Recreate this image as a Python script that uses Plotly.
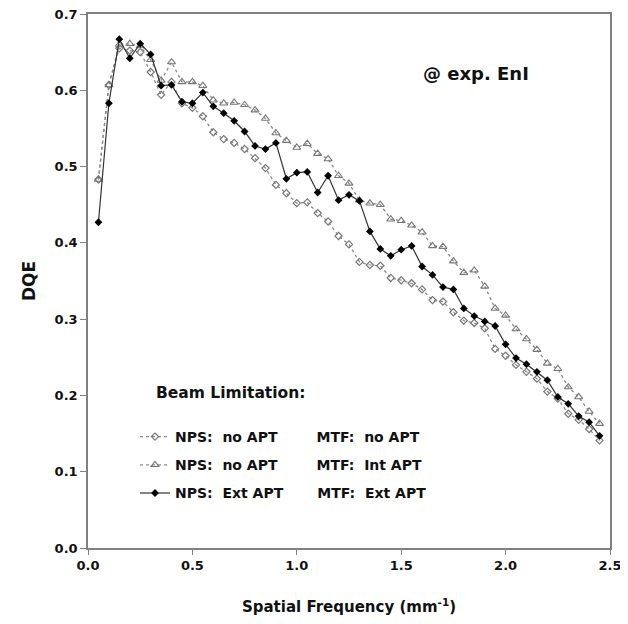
import plotly.graph_objects as go

freq = [0.05, 0.10, 0.15, 0.20, 0.25, 0.30, 0.35, 0.40, 0.45, 0.50,
        0.55, 0.60, 0.65, 0.70, 0.75, 0.80, 0.85, 0.90, 0.95, 1.00,
        1.05, 1.10, 1.15, 1.20, 1.25, 1.30, 1.35, 1.40, 1.45, 1.50,
        1.55, 1.60, 1.65, 1.70, 1.75, 1.80, 1.85, 1.90, 1.95, 2.00,
        2.05, 2.10, 2.15, 2.20, 2.25, 2.30, 2.35, 2.40, 2.45]

dqe_no_apt = [0.483, 0.607, 0.655, 0.652, 0.650, 0.624, 0.594, 0.611, 0.583, 0.577,
              0.566, 0.545, 0.536, 0.531, 0.523, 0.511, 0.498, 0.476, 0.465, 0.452,
              0.453, 0.439, 0.428, 0.409, 0.398, 0.375, 0.371, 0.370, 0.354, 0.351,
              0.347, 0.339, 0.325, 0.323, 0.309, 0.298, 0.295, 0.288, 0.261, 0.252,
              0.240, 0.231, 0.222, 0.205, 0.196, 0.176, 0.168, 0.156, 0.141]

dqe_int_apt = [0.483, 0.607, 0.660, 0.661, 0.658, 0.640, 0.613, 0.637, 0.611, 0.611,
               0.606, 0.587, 0.583, 0.584, 0.581, 0.574, 0.563, 0.544, 0.534, 0.525,
               0.530, 0.517, 0.510, 0.488, 0.478, 0.456, 0.452, 0.450, 0.431, 0.429,
               0.423, 0.414, 0.396, 0.395, 0.376, 0.361, 0.364, 0.343, 0.314, 0.305,
               0.287, 0.274, 0.260, 0.242, 0.235, 0.211, 0.198, 0.179, 0.163]

dqe_ext_apt = [0.427, 0.583, 0.667, 0.642, 0.661, 0.647, 0.606, 0.607, 0.585, 0.583,
               0.597, 0.579, 0.570, 0.560, 0.546, 0.527, 0.523, 0.531, 0.484, 0.492,
               0.493, 0.466, 0.488, 0.456, 0.463, 0.455, 0.415, 0.392, 0.383, 0.391,
               0.396, 0.369, 0.358, 0.342, 0.339, 0.314, 0.304, 0.297, 0.291, 0.267,
               0.249, 0.241, 0.231, 0.220, 0.198, 0.189, 0.173, 0.165, 0.147]

NB = "\u00a0"
legend_names = [
    "NPS:" + NB * 2 + "no APT" + NB * 8 + "MTF:" + NB * 2 + "no APT",
    "NPS:" + NB * 2 + "no APT" + NB * 8 + "MTF:" + NB * 2 + "Int APT",
    "NPS:" + NB * 2 + "Ext APT" + NB * 7 + "MTF:" + NB * 2 + "Ext APT",
]

FONT = "DejaVu Sans"
GRAY = "#8a8a8a"
TXT = "#111111"

# page body has an 8px default margin; plot area (screen) x 88..610, y 14..548
fig = go.Figure()

fig.add_trace(go.Scatter(
    x=freq, y=dqe_no_apt, mode="lines+markers", name=legend_names[0],
    legendgroup="a",
    line=dict(color=GRAY, width=1.3, dash="dot"),
    marker=dict(symbol="diamond-open", size=5.5, color="#777777", line=dict(width=1.2)),
))
fig.add_trace(go.Scatter(
    x=freq, y=dqe_int_apt, mode="lines+markers", name=legend_names[1],
    legendgroup="b",
    line=dict(color=GRAY, width=1.3, dash="dot"),
    marker=dict(symbol="triangle-up-open", size=7, color="#777777", line=dict(width=1.1)),
))
fig.add_trace(go.Scatter(
    x=freq, y=dqe_ext_apt, mode="lines+markers", name=legend_names[2],
    legendgroup="c",
    line=dict(color="#333333", width=1.2),
    marker=dict(symbol="diamond", size=6, color="#000000"),
))

fig.add_annotation(text="<b>@ exp. EnI</b>", xref="paper", yref="paper",
                   x=(476 - 88) / 522, y=(548 - 73) / 534,
                   xanchor="center", yanchor="middle", showarrow=False,
                   font=dict(family=FONT, size=18, color=TXT))
fig.add_annotation(text="<b>Beam Limitation:</b>", xref="paper", yref="paper",
                   x=(154 - 88) / 522, y=(548 - 393) / 534,
                   xanchor="left", yanchor="middle", showarrow=False,
                   font=dict(family=FONT, size=15.5, color=TXT))

fig.update_layout(
    width=620, height=616,
    margin=dict(l=80, r=18, t=6, b=76, autoexpand=False),
    paper_bgcolor="white", plot_bgcolor="white",
    font=dict(family=FONT, color=TXT),
    showlegend=True,
    legend=dict(
        x=(135 - 88) / 522, y=(548 - 421) / 534, xanchor="left", yanchor="top",
        bgcolor="rgba(0,0,0,0)", tracegroupgap=7,
        font=dict(family=FONT, size=14, color=TXT, weight="bold"),
    ),
    xaxis=dict(
        range=[0, 2.5], dtick=0.5, tickformat=".1f", automargin=False,
        ticklabeloverflow="allow",
        showgrid=False, zeroline=False,
        showline=True, linecolor="#808080", linewidth=1.5, mirror=True,
        ticks="outside", ticklen=5, tickcolor="#808080", tickwidth=1.2,
        tickfont=dict(family=FONT, size=13, color=TXT, weight="bold"),
        title=dict(text="<b>Spatial Frequency (mm<sup>-1</sup>)</b>",
                   font=dict(family=FONT, size=15, color=TXT), standoff=29),
    ),
    yaxis=dict(
        range=[0, 0.7], dtick=0.1, tickformat=".1f", automargin=False,
        ticklabeloverflow="allow",
        showgrid=False, zeroline=False,
        showline=True, linecolor="#808080", linewidth=1.5, mirror=True,
        ticks="outside", ticklen=6, tickcolor="#808080", tickwidth=1.2,
        tickfont=dict(family=FONT, size=13, color=TXT, weight="bold"),
        title=dict(text="<b>DQE</b>",
                   font=dict(family=FONT, size=17, color=TXT), standoff=15),
    ),
)

fig.write_html("out.html")
